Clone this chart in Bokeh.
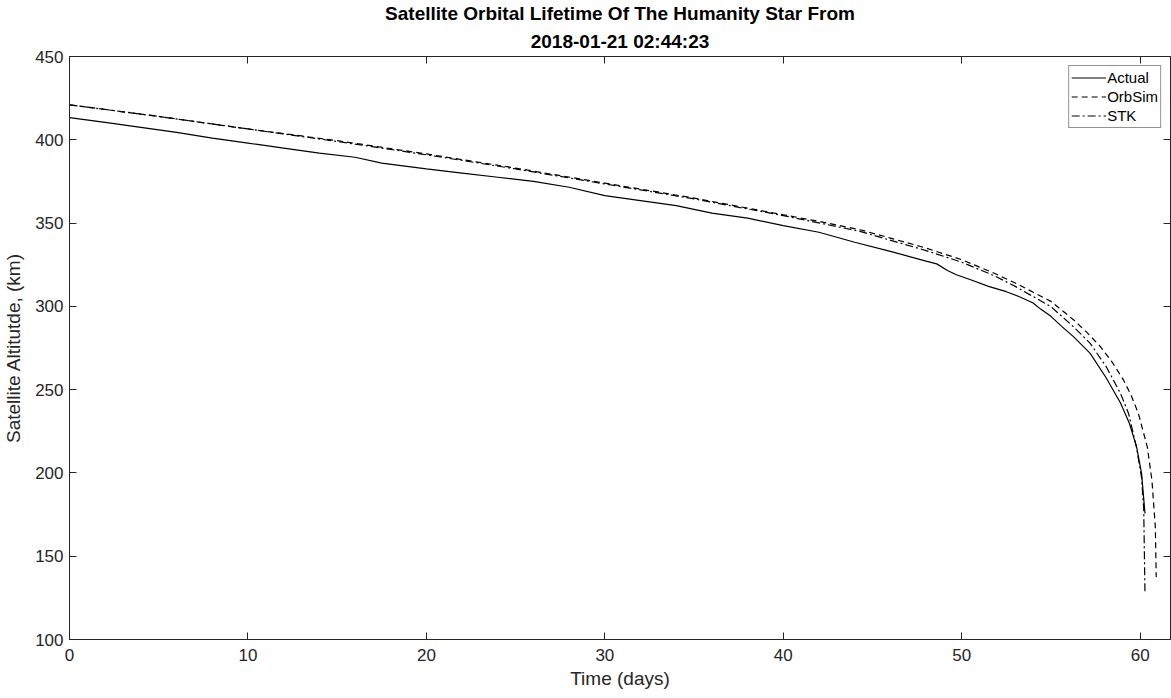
from bokeh.plotting import figure
from bokeh.models import Range1d, LinearAxis, Title, FixedTicker, Legend, LegendItem
from bokeh.embed import file_html
from bokeh.resources import INLINE

# ---- data ----
actual_days = [0, 2, 4, 6, 8, 10, 12, 14, 16, 17.5, 20, 22, 24, 26, 28, 30, 32, 34, 36, 38,
               40, 42, 44, 46, 48, 48.6, 49.2, 49.7, 50.5, 51.5, 52.5, 53.3, 54, 54.4, 55,
               55.6, 56.26, 57.2, 58.1, 58.9, 59.4, 59.8, 60.08, 60.27]
actual_alt = [413.3, 410.5, 407.5, 404.5, 401, 398, 395, 392, 389.5, 386, 382.5, 380, 377.5,
              375, 371.5, 366.5, 363.5, 360.5, 356, 353, 348.5, 344.5, 338.5, 333, 327.2,
              325.5, 321.5, 319, 316, 312, 308.8, 305.5, 302, 298.5, 294, 288, 281.8, 271.8,
              257, 242, 229.7, 215.6, 199.6, 175.6]

orbsim_days = [0, 5, 10, 15, 20, 25, 30, 35, 40, 42, 44.3, 46, 48, 50, 51.8, 53, 54, 55,
               56.26, 57, 57.76, 58.4, 59.07, 59.5, 59.9, 60.4, 60.66, 60.85, 60.9]
orbsim_alt = [421, 414, 406.5, 399.5, 391.5, 383, 374, 365, 355, 351, 346, 341, 335, 328,
              320, 314, 308.5, 303, 292, 284.5, 276, 267, 255.7, 246.5, 235.7, 215.6, 195.6,
              167.5, 137.5]

stk_days = [0, 5, 10, 15, 20, 25, 30, 35, 40, 44.3, 48, 50, 51.8, 53, 55, 56.26, 57.2, 58.1,
            58.9, 59.35, 59.8, 60.08, 60.2, 60.27]
stk_alt = [421, 414, 406.5, 399, 391, 382.5, 373.5, 364.5, 354.5, 345, 333.5, 326.5, 318.5,
           312, 299.8, 287.8, 277.8, 263.7, 247.7, 235.7, 215, 197, 178, 127.5]

x_ticks = [0, 10, 20, 30, 40, 50, 60]
y_ticks = [100, 150, 200, 250, 300, 350, 400, 450]

title_line1 = "Satellite Orbital Lifetime Of The Humanity Star From"
title_line2 = "2018-01-21 02:44:23"
x_label = "Time (days)"
y_label = "Satellite Altitutde, (km)"

FONT = "Liberation Sans"
TXT = "#262626"

p = figure(width=1171, height=698, output_backend="svg", toolbar_location=None,
           x_range=Range1d(0, 61.7), y_range=Range1d(100, 450),
           min_border_left=69, min_border_right=1, min_border_top=0, min_border_bottom=59)
p.title.visible = False
p.xgrid.visible = False
p.ygrid.visible = False
p.outline_line_color = TXT
p.outline_line_width = 1
p.background_fill_color = "white"
p.border_fill_color = "white"

# main axes (grab before adding the box axes)
xa = p.below[0]
ya = p.left[0]
xa.ticker = FixedTicker(ticks=x_ticks)
ya.ticker = FixedTicker(ticks=y_ticks)
for ax in (xa, ya):
    ax.major_tick_in = 7
    ax.major_tick_out = 0
    ax.minor_tick_in = 0
    ax.minor_tick_out = 0
    ax.axis_line_color = TXT
    ax.major_tick_line_color = TXT
    ax.major_label_text_font = FONT
    ax.major_label_text_font_size = "17px"
    ax.major_label_text_color = TXT
    ax.axis_label_text_font = FONT
    ax.axis_label_text_font_size = "19px"
    ax.axis_label_text_font_style = "normal"
    ax.axis_label_text_color = TXT
xa.axis_label = x_label
ya.axis_label = y_label
xa.major_label_standoff = 9
ya.major_label_standoff = 6
xa.axis_label_standoff = 4
ya.axis_label_standoff = 8

# box axes (ticks only) - closest to the frame
top = LinearAxis(ticker=FixedTicker(ticks=x_ticks),
                 major_label_overrides={t: "" for t in x_ticks})
right = LinearAxis(ticker=FixedTicker(ticks=y_ticks),
                   major_label_overrides={t: "" for t in y_ticks})
for ax in (top, right):
    ax.major_tick_in = 7
    ax.major_tick_out = 0
    ax.minor_tick_in = 0
    ax.minor_tick_out = 0
    ax.axis_line_color = TXT
    ax.major_tick_line_color = TXT
    ax.major_label_standoff = 0
    ax.major_label_text_font_size = "1px"
p.add_layout(top, "above")
p.add_layout(right, "right")

t2 = Title(text=title_line2, align="center", text_font=FONT, text_font_size="19px",
           text_font_style="bold", text_color="black", standoff=10)
t1 = Title(text=title_line1, align="center", text_font=FONT, text_font_size="19px",
           text_font_style="bold", text_color="black", standoff=0)
p.add_layout(t2, "above")
p.add_layout(t1, "above")

r1 = p.line(actual_days, actual_alt, line_color="black", line_width=1.2)
r2 = p.line(orbsim_days, orbsim_alt, line_color="black", line_width=1.2, line_dash="6 4")
r3 = p.line(stk_days, stk_alt, line_color="black", line_width=1.2, line_dash="8 3 2 3")

legend = Legend(items=[LegendItem(label="Actual", renderers=[r1]),
                       LegendItem(label="OrbSim", renderers=[r2]),
                       LegendItem(label="STK", renderers=[r3])],
                location="top_right")
legend.label_text_font = FONT
legend.label_text_font_size = "15px"
legend.label_text_color = "black"
legend.border_line_color = TXT
legend.border_line_width = 1
legend.padding = 2
legend.spacing = 0
legend.margin = 9
legend.glyph_width = 35
legend.glyph_height = 19
legend.label_height = 19
legend.label_standoff = 1
legend.background_fill_alpha = 1
p.add_layout(legend)

open("out.html", "w").write(file_html(p, INLINE))
